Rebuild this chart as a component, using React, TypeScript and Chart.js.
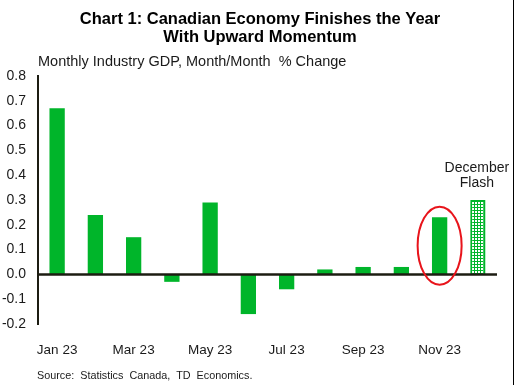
import React, { useEffect, useRef } from "react";
import { Chart, registerables } from "chart.js";

Chart.register(...registerables);

const titleLines = ["Chart 1: Canadian Economy Finishes the Year", "With Upward Momentum"];
const axisTitle = "Monthly Industry GDP, Month/Month  % Change";
const sourceText = "Source:  Statistics  Canada,  TD  Economics.";
const flashLabel = ["December", "Flash"];
const categories = ["Jan 23", "Feb 23", "Mar 23", "Apr 23", "May 23", "Jun 23", "Jul 23", "Aug 23", "Sep 23", "Oct 23", "Nov 23", "Dec 23"];
const gdpChange = [0.67, 0.24, 0.15, -0.03, 0.29, -0.16, -0.06, 0.02, 0.03, 0.03, 0.23, 0.30];
const highlightIndex = 10;
const flashIndex = 11;
const yMin = -0.2;
const yMax = 0.8;
const yStep = 0.1;

const GREEN = "#00B52A";
const DARK = "#1c1c12";
const FONT = "'Liberation Sans', Arial, sans-serif";

export default function App() {
  const ref = useRef<HTMLCanvasElement | null>(null);

  useEffect(() => {
    document.body.style.margin = "0";
    const canvas = ref.current;
    if (!canvas) return;

    const tile = document.createElement("canvas");
    tile.width = 3;
    tile.height = 3;
    const tctx = tile.getContext("2d")!;
    tctx.fillStyle = GREEN;
    tctx.fillRect(0, 0, 3, 3);
    tctx.fillStyle = "#ffffff";
    tctx.fillRect(1, 1, 2, 2);
    const pattern = canvas.getContext("2d")!.createPattern(tile, "repeat")!;

    const overlay = {
      id: "overlay",
      afterDatasetsDraw(chart: any) {
        const { ctx, chartArea, scales } = chart;
        const x = scales.x;
        const y = scales.y;
        ctx.save();
        const y0 = y.getPixelForValue(0);
        ctx.strokeStyle = DARK;
        ctx.lineWidth = 2.5;
        ctx.beginPath();
        ctx.moveTo(chartArea.left, y0);
        ctx.lineTo(chartArea.right, y0);
        ctx.stroke();

        // red ellipse around highlighted bar
        const ex = x.getPixelForValue(highlightIndex);
        const ey = y.getPixelForValue(0.116);
        ctx.strokeStyle = "#E8141B";
        ctx.lineWidth = 2;
        ctx.beginPath();
        ctx.ellipse(ex, ey, 22, 39, 0, 0, Math.PI * 2);
        ctx.stroke();

        // December flash label
        const fx = x.getPixelForValue(flashIndex) - 1;
        const fy = y.getPixelForValue(gdpChange[flashIndex]);
        ctx.fillStyle = "#1a1a1a";
        ctx.font = `14px ${FONT}`;
        ctx.textAlign = "center";
        ctx.textBaseline = "middle";
        ctx.fillText(flashLabel[0], fx, fy - 32);
        ctx.fillText(flashLabel[1], fx, fy - 17);
        ctx.restore();
      },
      afterDraw(chart: any) {
        const { ctx } = chart;
        ctx.save();
        ctx.fillStyle = "#000";
        ctx.textBaseline = "middle";
        ctx.textAlign = "center";
        ctx.font = `bold 16.5px ${FONT}`;
        ctx.fillText(titleLines[0], 260, 19);
        ctx.fillText(titleLines[1], 260, 37.5);
        ctx.textAlign = "left";
        ctx.fillStyle = "#1a1a1a";
        ctx.font = `14.5px ${FONT}`;
        ctx.fillText(axisTitle, 38, 62);
        ctx.font = `10.8px ${FONT}`;
        ctx.fillText(sourceText, 37, 376);
        ctx.strokeStyle = "#000";
        ctx.lineWidth = 1;
        ctx.beginPath();
        ctx.moveTo(513.5, 0);
        ctx.lineTo(513.5, 385);
        ctx.stroke();
        ctx.restore();
      },
    };

    const chart = new Chart(canvas, {
      type: "bar",
      data: {
        labels: categories,
        datasets: [
          {
            data: gdpChange,
            backgroundColor: gdpChange.map((_, i) => (i === flashIndex ? pattern : GREEN)),
            borderColor: GREEN,
            borderWidth: gdpChange.map((_, i) => (i === flashIndex ? 2 : 0)),
            barPercentage: 0.4,
            categoryPercentage: 1,
          },
        ],
      },
      options: {
        animation: false,
        responsive: true,
        maintainAspectRatio: false,
        layout: { padding: { left: 0, right: 20, top: 76, bottom: 0 } },
        plugins: {
          legend: { display: false },
          tooltip: { enabled: false },
          title: { display: false },
        },
        scales: {
          x: {
            grid: { display: false },
            border: { display: false },
            ticks: {
              autoSkip: false,
              maxRotation: 0,
              padding: 10,
              color: "#1a1a1a",
              font: { family: FONT, size: 13.5 },
              callback: (_v: any, i: number) => (i % 2 === 0 ? categories[i] : ""),
            },
            afterFit: (s: any) => {
              s.height = 61;
            },
          },
          y: {
            min: yMin,
            max: yMax,
            grid: { display: false, drawTicks: false },
            border: { display: true, color: DARK, width: 2 },
            ticks: {
              stepSize: yStep,
              padding: 12,
              color: "#1a1a1a",
              font: { family: FONT, size: 14 },
              callback: (v: any) => Number(v).toFixed(1),
            },
            afterFit: (s: any) => {
              s.width = 38;
            },
          },
        },
      },
      plugins: [overlay],
    });

    return () => chart.destroy();
  }, []);

  return (
    <div style={{ width: 517, height: 385, position: "relative" }}>
      <canvas ref={ref} />
    </div>
  );
}
